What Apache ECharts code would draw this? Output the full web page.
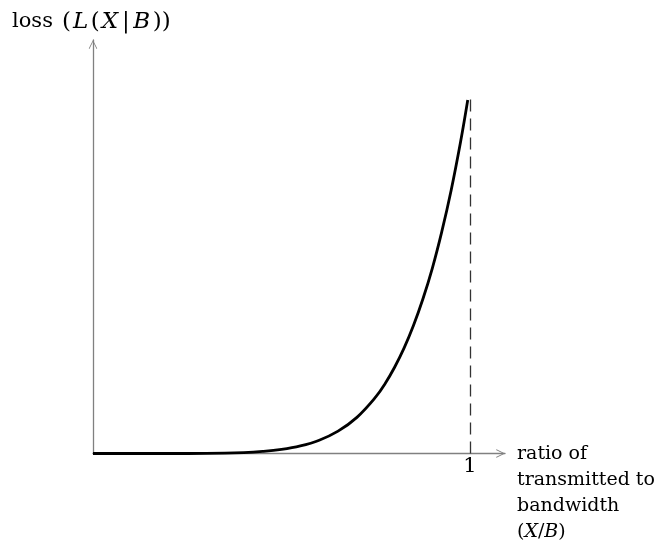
<!DOCTYPE html>
<html>
<head>
<meta charset="utf-8">
<script src="https://cdn.jsdelivr.net/npm/echarts@6/dist/echarts.min.js"></script>
<style>
  html, body { margin: 0; padding: 0; background: #fff; }
  #chart { width: 661px; height: 540px; }
</style>
</head>
<body>
<div id="chart"></div>
<script>
// ratio X/B and the loss (curve top = 1)
const ratio = [0, 0.1, 0.2, 0.3, 0.4, 0.45, 0.5, 0.55, 0.6, 0.65, 0.7, 0.75, 0.775, 0.8, 0.825, 0.85, 0.875, 0.9, 0.925, 0.95, 0.975, 0.994];
const loss  = [0, 0, 0, 0.0004, 0.0027, 0.0058, 0.0115, 0.0214, 0.0376, 0.0632, 0.1023, 0.160, 0.198, 0.244, 0.298, 0.362, 0.437, 0.524, 0.627, 0.745, 0.882, 1.0];
const xTicks = [1];
const limitX = 1;

const serif = '"DejaVu Serif", "Liberation Serif", serif';
const axisGray = '#808080';
const arrow = 'path://M0,10 L5,0 L10,10 L9.2,10.6 L5,2.2 L0.8,10.6 Z';

let chart = echarts.init(document.getElementById('chart'));

function richStyle(size, lh) {
    return {
        n: { fontFamily: serif, fontSize: size, fontWeight: 'normal', color: '#000', lineHeight: lh },
        p: { fontFamily: serif, fontSize: size + 2, fontWeight: 'normal', color: '#000', lineHeight: lh },
        i: { fontFamily: serif, fontSize: size + 2, fontWeight: 'normal', fontStyle: 'italic', color: '#000', lineHeight: lh, padding: [0, 2.5, 0, 2] },
        b: { fontFamily: serif, fontSize: size + 2, fontWeight: 'normal', color: '#000', lineHeight: lh, padding: [0, 1.5, 0, 1.5] },
        s: { fontFamily: serif, fontSize: size + 2, fontWeight: 'normal', color: '#000', lineHeight: lh, padding: [0, 0, 0, 9] }
    };
}

let option = {
    backgroundColor: '#fff',
    animation: false,
    title: [
        {
            text: '{n|loss}{s|(}{i|L}{p|(}{i|X}{b||}{i|B}{p|))}',
            left: 7,
            top: 3,
            textStyle: { fontWeight: 'normal', rich: richStyle(21, 28) }
        },
        {
            text: '{n|ratio of}\n{n|transmitted to}\n{n|bandwidth}\n{n|(}{i|X}{n|/}{i|B}{n|)}',
            left: 512,
            top: 436,
            textStyle: {
                fontWeight: 'normal',
                rich: {
                    n: { fontFamily: serif, fontSize: 19, color: '#000', lineHeight: 26 },
                    i: { fontFamily: serif, fontSize: 19, fontStyle: 'italic', color: '#000', lineHeight: 26 }
                }
            }
        }
    ],
    grid: { left: 93, right: 156, top: 40, bottom: 86.5 },
    xAxis: {
        type: 'value',
        min: 0,
        max: 1.0928,
        interval: 1,
        splitLine: { show: false },
        axisTick: { show: false },
        axisLine: {
            onZero: false,
            symbol: ['none', arrow],
            symbolSize: [9, 9],
            symbolOffset: [0, -4.5],
            lineStyle: { color: axisGray, width: 1.3 }
        },
        axisLabel: {
            margin: 3,
            color: '#000',
            fontFamily: serif,
            fontSize: 21,
            formatter: v => xTicks.indexOf(v) >= 0 ? String(v) : ''
        }
    },
    yAxis: {
        type: 'value',
        min: 0,
        max: 1.17,
        splitLine: { show: false },
        axisTick: { show: false },
        axisLabel: { show: false },
        axisLine: {
            show: true,
            onZero: false,
            symbol: ['none', arrow],
            symbolSize: [9, 9],
            symbolOffset: [0, -4.5],
            lineStyle: { color: axisGray, width: 1.3 }
        }
    },
    series: [
        {
            type: 'line',
            data: ratio.map((r, i) => [r, loss[i]]),
            smooth: 0.4,
            showSymbol: false,
            clip: false,
            lineStyle: { color: '#000', width: 2.8 },
            markLine: {
                silent: true,
                symbol: ['none', 'none'],
                label: { show: false },
                lineStyle: { color: '#333', width: 1.3, type: [12, 7] },
                data: [[{ coord: [limitX, 0] }, { coord: [limitX, 1.02] }]]
            }
        }
    ]
};

chart.setOption(option, true);
</script>
</body>
</html>
